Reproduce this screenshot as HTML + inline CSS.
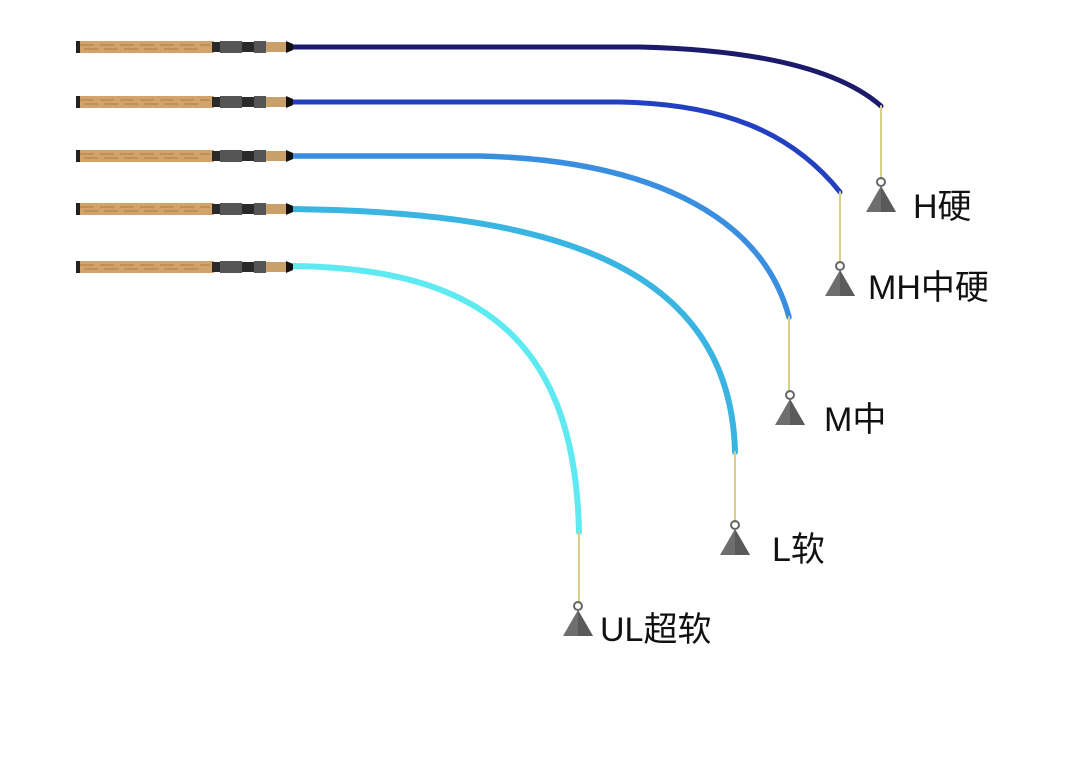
<!DOCTYPE html>
<html><head><meta charset="utf-8"><style>
html,body{margin:0;padding:0;background:#fff;width:1080px;height:760px;overflow:hidden}
text{font-family:"Liberation Sans","Noto Sans CJK SC",sans-serif;fill:#111;font-size:34px}
</style></head><body>
<svg width="1080" height="760" viewBox="0 0 1080 760">
<defs>
<g id="handle">
<rect x="76" y="-6" width="138" height="12" fill="#d2a36a"/>
<path d="M80 -2 H210 M84 2 H200" stroke="#b07c45" stroke-width="1" stroke-dasharray="14 6"/>
<rect x="76" y="-6" width="4" height="12" fill="#222"/>
<rect x="212" y="-5" width="60" height="10" fill="#2a2a2a"/>
<rect x="220" y="-6" width="22" height="12" fill="#555"/>
<rect x="254" y="-6" width="12" height="12" fill="#555"/>
<rect x="266" y="-5" width="20" height="10" fill="#c9a06a"/>
<path d="M286 -6 L293 -3 V3 L286 6Z" fill="#111"/>
</g>
<g id="wt">
<circle cx="0" cy="-4" r="4" fill="none" stroke="#666" stroke-width="2"/>
<path d="M0 0 L15 26 H-15Z" fill="#6e6e6e"/>
<path d="M0 0 L15 26 H0Z" fill="#5a5a5a"/>
</g>
</defs>
<g fill="none" stroke-linecap="round">
<path d="M292 47 H640 C760 50 840 70 881 106" stroke="#1c1a6a" stroke-width="5"/>
<path d="M881 106 V179" stroke="#d8d08a" stroke-width="2"/>
<path d="M292 102 H620 C720 104 790 130 840 192" stroke="#2240c0" stroke-width="5"/>
<path d="M840 192 V263" stroke="#d8d08a" stroke-width="2"/>
<path d="M292 156 H480 C640 160 760 210 789 317" stroke="#3a8ee0" stroke-width="5.5"/>
<path d="M789 317 V392" stroke="#d8d08a" stroke-width="2"/>
<path d="M292 209 C520 212 730 250 735 452" stroke="#3ab4e0" stroke-width="6"/>
<path d="M735 452 V522" stroke="#d8d08a" stroke-width="2"/>
<path d="M292 266 C480 268 575 340 579 532" stroke="#5eeaf0" stroke-width="6"/>
<path d="M579 532 V603" stroke="#d8d08a" stroke-width="2"/>
</g>
<use href="#handle" y="47"/>
<use href="#handle" y="102"/>
<use href="#handle" y="156"/>
<use href="#handle" y="209"/>
<use href="#handle" y="267"/>
<use href="#wt" x="881" y="186"/>
<use href="#wt" x="840" y="270"/>
<use href="#wt" x="790" y="399"/>
<use href="#wt" x="735" y="529"/>
<use href="#wt" x="578" y="610"/>
<text x="913" y="218">H硬</text>
<text x="868" y="299">MH中硬</text>
<text x="824" y="431">M中</text>
<text x="772" y="561">L软</text>
<text x="600" y="641">UL超软</text>
</svg>
</body></html>
